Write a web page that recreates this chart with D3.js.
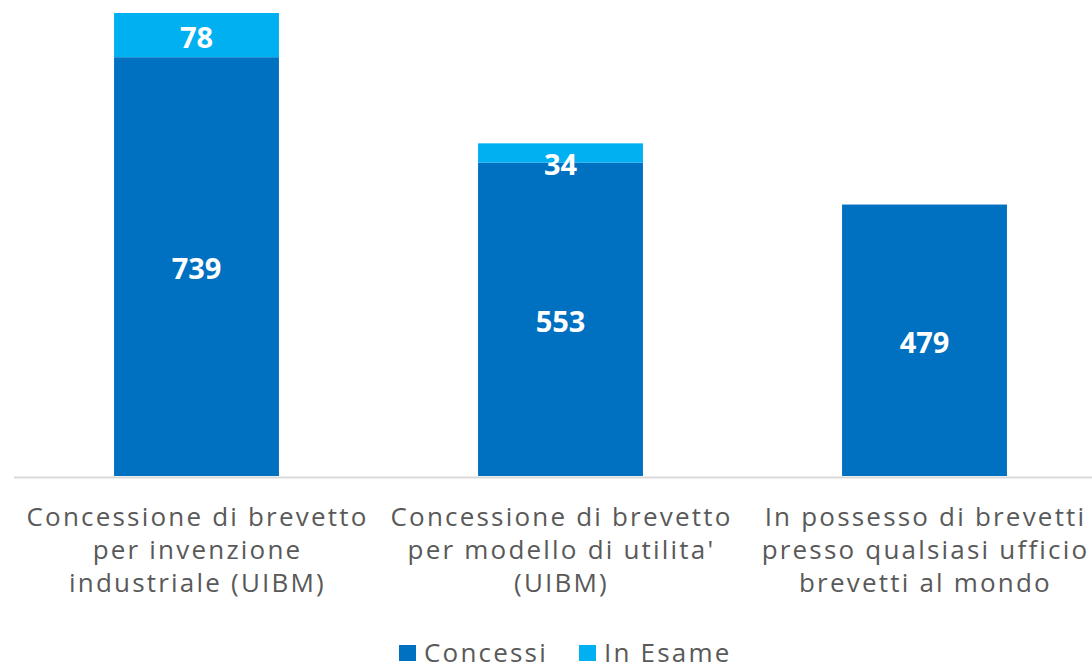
<!DOCTYPE html>
<html>
<head>
<meta charset="utf-8">
<script src="https://cdn.jsdelivr.net/npm/d3@7"></script>
<style>
  body { margin: 0; background: #fff; }
  svg { display: block; font-family: "Open Sans", "Noto Sans", sans-serif; }
</style>
</head>
<body>
<div class="chart"></div>
<script>
"use strict";
const categories = [
    ["Concessione di brevetto", "per invenzione", "industriale (UIBM)"],
    ["Concessione di brevetto", "per modello di utilita'", "(UIBM)"],
    ["In possesso di brevetti", "presso qualsiasi ufficio", "brevetti al mondo"]
];
const seriesNames = ["Concessi", "In Esame"];
const concessi = [739, 553, 479];
const inEsame = [78, 34, 0];
const colors = ["#0070C0", "#00B0F0"];

const width = 1092, height = 667;
const svg = d3.select(".chart").append("svg")
    .attr("width", width)
    .attr("height", height);

const rows = categories.map((c, i) => ({key: i, Concessi: concessi[i], "In Esame": inEsame[i]}));
const stacked = d3.stack().keys(seriesNames)(rows);

const x = d3.scaleBand()
    .domain(d3.range(categories.length))
    .range([14.5, 1106.5])
    .paddingInner(0.547)
    .paddingOuter(0.2735);

const y = d3.scaleLinear()
    .domain([0, 817])
    .range([476, 13]);

// bars
const layers = svg.selectAll("g.layer")
    .data(stacked)
    .enter().append("g")
    .attr("class", "layer")
    .attr("fill", (d, i) => colors[i]);

layers.selectAll("rect")
    .data(d => d)
    .enter().append("rect")
    .attr("x", d => x(d.data.key))
    .attr("width", x.bandwidth())
    .attr("y", d => y(d[1]))
    .attr("height", d => y(d[0]) - y(d[1]));

// value labels (small segments: label pushed down so it fits)
layers.selectAll("text")
    .data(d => d.filter(p => p[1] - p[0] > 0))
    .enter().append("text")
    .attr("x", d => x(d.data.key) + x.bandwidth() / 2)
    .attr("y", d => Math.max((y(d[0]) + y(d[1])) / 2 + 2, y(d[1]) + 21))
    .attr("dy", "0.36em")
    .attr("text-anchor", "middle")
    .attr("fill", "#fff")
    .style("font-size", "29px")
    .style("font-weight", "bold")
    .text(d => d[1] - d[0]);

// baseline
svg.append("line")
    .attr("x1", 14)
    .attr("x2", width)
    .attr("y1", y(0) + 1.5)
    .attr("y2", y(0) + 1.5)
    .attr("stroke", "#d9d9d9")
    .attr("stroke-width", 2);

// category labels
const catLabels = svg.selectAll("text.cat")
    .data(categories)
    .enter().append("text")
    .attr("class", "cat")
    .attr("text-anchor", "middle")
    .attr("fill", "#595959")
    .style("font-size", "26px")
    .style("letter-spacing", "2.2px");

catLabels.selectAll("tspan")
    .data((d, i) => d.map(line => ({line: line, i: i})))
    .enter().append("tspan")
    .attr("x", d => x(d.i) + x.bandwidth() / 2 + 1)
    .attr("y", (d, j) => 526 + j * 33)
    .text(d => d.line);

// legend
const legendX = [399, 579];
const legend = svg.selectAll("g.legend")
    .data(seriesNames)
    .enter().append("g")
    .attr("class", "legend")
    .attr("transform", (d, i) => "translate(" + legendX[i] + ",645)");

legend.append("rect")
    .attr("width", 17)
    .attr("height", 16)
    .attr("fill", (d, i) => colors[i]);

legend.append("text")
    .attr("x", 25)
    .attr("y", 17)
    .attr("fill", "#595959")
    .style("font-size", "26px")
    .style("letter-spacing", "2.2px")
    .text(d => d);
</script>
</body>
</html>
